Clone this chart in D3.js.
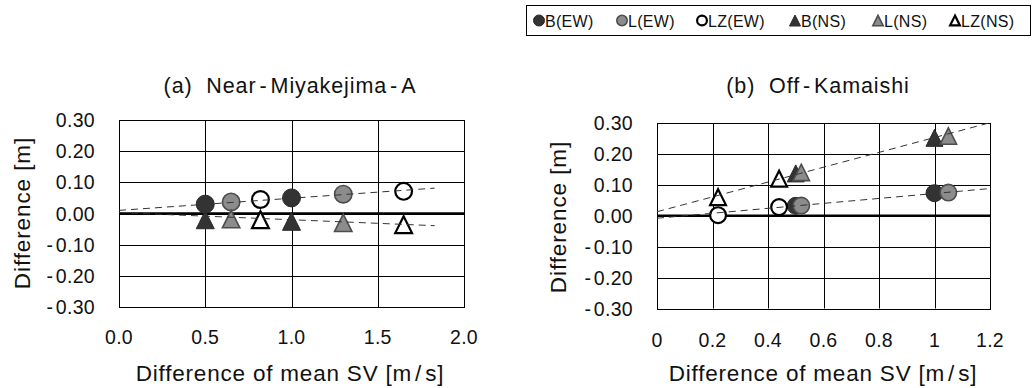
<!DOCTYPE html>
<html><head><meta charset="utf-8">
<script src="https://cdn.jsdelivr.net/npm/d3@7"></script>
<style>
html,body{margin:0;padding:0;background:#fff;}
svg{display:block;font-family:"Liberation Sans",Arial,sans-serif;}
</style></head>
<body>
<svg id="chart" width="1034" height="388"></svg>
<script>
// ---------- data ----------
const seriesNames = ["B(EW)", "L(EW)", "LZ(EW)", "B(NS)", "L(NS)", "LZ(NS)"];

// Panel (a) Near-Miyakejima-A
const a_BEW_x = [0.50, 1.00],  a_BEW_y = [0.030, 0.050];
const a_LEW_x = [0.65, 1.30],  a_LEW_y = [0.037, 0.062];
const a_LZEW_x = [0.82, 1.65], a_LZEW_y = [0.045, 0.071];
const a_BNS_x = [0.50, 1.00],  a_BNS_y = [-0.020, -0.025];
const a_LNS_x = [0.65, 1.30],  a_LNS_y = [-0.018, -0.030];
const a_LZNS_x = [0.82, 1.65], a_LZNS_y = [-0.020, -0.036];
// trend lines: [intercept, slope, xStart, xEnd]
const a_trendEW = [0.010, 0.039, 0, 1.83];
const a_trendNS = [0.003, -0.023, 0, 1.83];

// Panel (b) Off-Kamaishi
const b_BEW_x = [0.50, 1.00],  b_BEW_y = [0.032, 0.073];
const b_LEW_x = [0.52, 1.05],  b_LEW_y = [0.033, 0.075];
const b_LZEW_x = [0.22, 0.44], b_LZEW_y = [0.002, 0.028];
const b_BNS_x = [0.50, 1.00],  b_BNS_y = [0.137, 0.252];
const b_LNS_x = [0.52, 1.05],  b_LNS_y = [0.140, 0.258];
const b_LZNS_x = [0.22, 0.44], b_LZNS_y = [0.060, 0.120];
const b_trendNS = [0.013, 0.240, 0, 1.2];
const b_trendEW = [-0.008, 0.080, 0, 1.19];

const yTicks = [-0.3, -0.2, -0.1, 0, 0.1, 0.2, 0.3];
const yTickLabels = ["-0.30", "-0.20", "-0.10", "0.00", "0.10", "0.20", "0.30"];
const a_xTicks = [0, 0.5, 1.0, 1.5, 2.0];
const a_xTickLabels = ["0.0", "0.5", "1.0", "1.5", "2.0"];
const b_xTicks = [0, 0.2, 0.4, 0.6, 0.8, 1.0, 1.2];
const b_xTickLabels = ["0", "0.2", "0.4", "0.6", "0.8", "1", "1.2"];

const titles = ["(a)  Near-Miyakejima-A", "(b)  Off-Kamaishi"];
const xTitle = "Difference of mean SV [m/s]";
const yTitle = "Difference [m]";

// ---------- styles ----------
const markerStyle = {
  "B(EW)":  {shape: "circle",   fill: "#333333", stroke: "#2a2a2a", sw: 1},
  "L(EW)":  {shape: "circle",   fill: "#8c8c8c", stroke: "#4d4d4d", sw: 1.6},
  "LZ(EW)": {shape: "circle",   fill: "#ffffff", stroke: "#000000", sw: 2.2},
  "B(NS)":  {shape: "triangle", fill: "#333333", stroke: "#2a2a2a", sw: 1},
  "L(NS)":  {shape: "triangle", fill: "#8c8c8c", stroke: "#4d4d4d", sw: 1.6},
  "LZ(NS)": {shape: "triangle", fill: "#ffffff", stroke: "#000000", sw: 2.2}
};

function drawMarker(g, name, cx, cy, size) {
  const s = markerStyle[name];
  if (s.shape === "circle") {
    g.append("circle").attr("cx", cx).attr("cy", cy).attr("r", size / 2 - s.sw / 2)
      .attr("fill", s.fill).attr("stroke", s.stroke).attr("stroke-width", s.sw);
  } else {
    const w = size - s.sw, h = size - s.sw;
    const p = d3.path();
    p.moveTo(cx, cy - h / 2); p.lineTo(cx + w / 2, cy + h / 2); p.lineTo(cx - w / 2, cy + h / 2); p.closePath();
    g.append("path").attr("d", p.toString())
      .attr("fill", s.fill).attr("stroke", s.stroke).attr("stroke-width", s.sw)
      .attr("stroke-linejoin", "miter");
  }
}

// write text, widening the space around "-" and "/" like the original font
function spacedText(sel, str, gap) {
  const parts = str.split(/([-\/])/);
  let pendingDx = 0;
  parts.forEach(p => {
    if (p === "") return;
    const isSep = (p === "-" || p === "/");
    const t = sel.append("tspan").text(p);
    let dx = pendingDx + (isSep && sel.node().childNodes.length > 1 ? gap : 0);
    if (dx) t.attr("dx", dx);
    pendingDx = isSep ? gap : 0;
  });
}

const svg = d3.select("#chart");

function panel(cfg) {
  const x = d3.scaleLinear().domain(cfg.xDomain).range([cfg.left, cfg.right]);
  const y = d3.scaleLinear().domain([-0.3, 0.3]).range([cfg.bottom, cfg.top]);
  const g = svg.append("g");

  // grid
  g.selectAll(".hg").data(yTicks).enter().append("line")
    .attr("x1", cfg.left).attr("x2", cfg.right)
    .attr("y1", d => Math.round(y(d)) + 0.5).attr("y2", d => Math.round(y(d)) + 0.5)
    .attr("stroke", "#000").attr("stroke-width", 1);
  g.selectAll(".vg").data(cfg.xTicks).enter().append("line")
    .attr("y1", cfg.top).attr("y2", cfg.bottom)
    .attr("x1", d => Math.round(x(d)) + 0.5).attr("x2", d => Math.round(x(d)) + 0.5)
    .attr("stroke", "#000").attr("stroke-width", 1);
  // border
  g.append("rect").attr("x", cfg.left + 0.5).attr("y", Math.round(cfg.top) + 0.5)
    .attr("width", cfg.right - cfg.left).attr("height", Math.round(cfg.bottom) - Math.round(cfg.top))
    .attr("fill", "none").attr("stroke", "#000").attr("stroke-width", 1);
  // zero line
  g.append("line").attr("x1", cfg.left).attr("x2", cfg.right + 1)
    .attr("y1", y(0)).attr("y2", y(0)).attr("stroke", "#000").attr("stroke-width", 2.6);

  // y tick labels
  g.selectAll(".yl").data(yTicks).enter().append("text")
    .attr("x", cfg.left - 24).attr("y", d => y(d) + 7)
    .attr("text-anchor", "end").attr("font-size", 19.5).attr("letter-spacing", 0.3)
    .attr("fill", "#111")
    .each(function (d, i) { spacedText(d3.select(this), yTickLabels[i], 2.5); });
  // x tick labels
  g.selectAll(".xl").data(cfg.xTicks).enter().append("text")
    .attr("x", d => x(d)).attr("y", cfg.xLabelY)
    .attr("text-anchor", "middle").attr("font-size", 19.5).attr("letter-spacing", 0.3)
    .attr("fill", "#111").text((d, i) => cfg.xTickLabels[i]);

  // titles
  const tt = g.append("text").attr("x", cfg.titleX).attr("y", 93).attr("text-anchor", "middle")
    .attr("font-size", 21.5).attr("letter-spacing", 0.9).attr("xml:space", "preserve")
    .style("white-space", "pre").attr("fill", "#111");
  spacedText(tt, cfg.title, 3);
  const xt = g.append("text").attr("x", cfg.xTitleX).attr("y", 381).attr("text-anchor", "middle")
    .attr("font-size", 22.5).attr("letter-spacing", 0.8).attr("fill", "#111");
  spacedText(xt, xTitle, 3);
  g.append("text").attr("transform", `translate(${cfg.yTitleX},${cfg.yTitleY}) rotate(-90)`)
    .attr("text-anchor", "middle").attr("font-size", 22.5).attr("letter-spacing", 0.9)
    .attr("fill", "#111").text(yTitle);

  // markers
  const mg = g.append("g");
  cfg.series.forEach(s => {
    s.xs.forEach((xv, i) => drawMarker(mg, s.name, x(xv), y(s.ys[i]), cfg.markerSize));
  });

  // trend lines
  const clipId = "clip" + cfg.id;
  svg.append("clipPath").attr("id", clipId).append("rect")
    .attr("x", cfg.left).attr("y", cfg.top).attr("width", cfg.right - cfg.left).attr("height", cfg.bottom - cfg.top);
  const line = d3.line().x(d => x(d[0])).y(d => y(d[1]));
  cfg.trends.forEach(t => {
    const [b0, m, x0, x1] = t;
    g.append("path").attr("d", line([[x0, b0 + m * x0], [x1, b0 + m * x1]]))
      .attr("clip-path", `url(#${clipId})`)
      .attr("fill", "none").attr("stroke", "#333").attr("stroke-width", 1)
      .attr("stroke-dasharray", "7,5");
  });
}

panel({
  id: "a", left: 119, right: 464, top: 120, bottom: 307,
  xDomain: [0, 2], xTicks: a_xTicks, xTickLabels: a_xTickLabels, xLabelY: 344,
  title: titles[0], titleX: 290, xTitleX: 290, yTitleX: 30, yTitleY: 213,
  markerSize: 19,
  series: [
    {name: "B(EW)", xs: a_BEW_x, ys: a_BEW_y},
    {name: "L(EW)", xs: a_LEW_x, ys: a_LEW_y},
    {name: "LZ(EW)", xs: a_LZEW_x, ys: a_LZEW_y},
    {name: "B(NS)", xs: a_BNS_x, ys: a_BNS_y},
    {name: "L(NS)", xs: a_LNS_x, ys: a_LNS_y},
    {name: "LZ(NS)", xs: a_LZNS_x, ys: a_LZNS_y}
  ],
  trends: [a_trendEW, a_trendNS]
});

panel({
  id: "b", left: 657, right: 990, top: 123, bottom: 308.5,
  xDomain: [0, 1.2], xTicks: b_xTicks, xTickLabels: b_xTickLabels, xLabelY: 347,
  title: titles[1], titleX: 818, xTitleX: 823, yTitleX: 566, yTitleY: 217,
  markerSize: 18,
  series: [
    {name: "B(EW)", xs: b_BEW_x, ys: b_BEW_y},
    {name: "L(EW)", xs: b_LEW_x, ys: b_LEW_y},
    {name: "LZ(EW)", xs: b_LZEW_x, ys: b_LZEW_y},
    {name: "B(NS)", xs: b_BNS_x, ys: b_BNS_y},
    {name: "L(NS)", xs: b_LNS_x, ys: b_LNS_y},
    {name: "LZ(NS)", xs: b_LZNS_x, ys: b_LZNS_y}
  ],
  trends: [b_trendNS, b_trendEW]
});

// legend
const lg = svg.append("g");
lg.append("rect").attr("x", 526.5).attr("y", 5.5).attr("width", 504).attr("height", 30)
  .attr("fill", "#fff").attr("stroke", "#000").attr("stroke-width", 1);
const legendX = [539, 622, 702, 795, 878, 955];
seriesNames.forEach((n, i) => {
  drawMarker(lg, n, legendX[i], 20.5, 12);
  lg.append("text").attr("x", legendX[i] + 6).attr("y", 26.5)
    .attr("font-size", 16).attr("letter-spacing", 0.3).attr("fill", "#111").text(n);
});
</script>
</body></html>
